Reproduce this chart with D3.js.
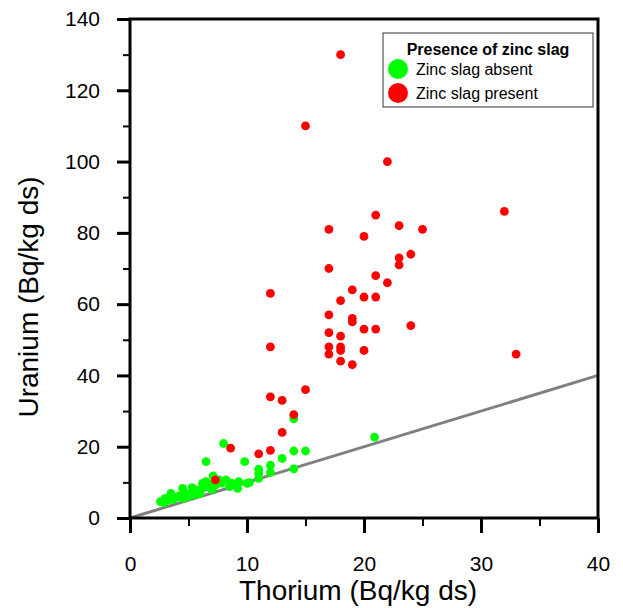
<!DOCTYPE html>
<html>
<head>
<meta charset="utf-8">
<script src="https://cdn.jsdelivr.net/npm/d3@7"></script>
<style>
  body { margin: 0; background: #fff; }
  text { font-family: Arial, "Liberation Sans", sans-serif; }
</style>
</head>
<body>
<div id="chart"></div>
<script>
// thorium / uranium, zinc slag absent (green)
let absentTh = [2.6, 2.9, 3.0, 3.3, 3.5, 3.7, 3.9, 4.2, 4.5, 4.5, 4.7, 5.0, 5.2, 5.3, 5.5, 5.6, 5.9, 6.0, 6.2, 6.3,
  6.5, 6.6, 6.8, 7.0, 7.1, 7.3, 7.6, 7.8, 8.2, 8.5, 8.7, 9.2, 9.3, 10.0, 10.2, 6.5, 9.8, 8.0, 11, 11,
  11, 12, 12, 13, 14, 14, 15, 14, 20.9]
let absentU = [4.6, 4.3, 5.5, 5.0, 6.9, 5.2, 5.8, 6.2, 8.3, 5.5, 6.8, 6.0, 7.2, 8.5, 6.5, 7.9, 7.8, 6.8, 9.7, 8.5,
  10.2, 8.8, 9.5, 8.0, 11.8, 9.2, 10.7, 9.8, 10.7, 8.8, 9.7, 8.3, 10.2, 9.7, 9.9, 15.8, 15.8, 20.9, 13.7, 12.5,
  11.1, 14.8, 12.8, 16.7, 13.8, 18.8, 18.8, 27.8, 22.7]

// zinc slag present (red)
let presentTh = [18, 15, 22, 21, 17, 23, 25, 20, 32, 24, 23, 23, 17, 21, 22, 12, 19, 18, 20, 21,
  17, 19, 19, 24, 20, 21, 17, 18, 12, 17, 17, 18, 18, 20, 18, 19, 33, 15, 12, 13,
  14, 13, 8.6, 11, 12, 7.3]
let presentU = [130, 110, 100, 85, 81, 82, 81, 79, 86, 74, 73, 71, 70, 68, 66, 63, 64, 61, 62, 62,
  57, 56, 55, 54, 53, 53, 52, 51, 48, 48, 46, 48, 47, 47, 44, 43, 46, 36, 34, 33,
  29, 24, 19.6, 18, 19, 10.7]

let xTicks = [0, 10, 20, 30, 40]
let xMinor = [5, 15, 25, 35]
let yTicks = [0, 20, 40, 60, 80, 100, 120, 140]
let yMinor = [10, 30, 50, 70, 90, 110, 130]
let refLine = [[0, 0], [40, 40]]

let legendLabels = ['Zinc slag absent', 'Zinc slag present']
let legendColors = ['#00ff00', '#ff0000']

let width = 623
let height = 608
let margin = { top: 19, left: 130, right: 25, bottom: 90 }

let svg = d3.select('#chart')
  .append('svg')
  .attr('width', width)
  .attr('height', height)

let x = d3.scaleLinear().domain([0, 40]).range([margin.left, width - margin.right])
let y = d3.scaleLinear().domain([0, 140]).range([height - margin.bottom, margin.top])

// 1:1 line goes underneath the dots
svg.append('path')
  .datum(refLine)
  .attr('d', d3.line().x(d => x(d[0])).y(d => y(d[1])))
  .attr('stroke', '#808080')
  .attr('stroke-width', 3)
  .attr('fill', 'none')

let absent = absentTh.map((d, i) => ({ th: d, u: absentU[i] }))
let present = presentTh.map((d, i) => ({ th: d, u: presentU[i] }))

svg.selectAll('.absent')
  .data(absent)
  .enter()
  .append('circle')
  .attr('class', 'absent')
  .attr('cx', d => x(d.th))
  .attr('cy', d => y(d.u))
  .attr('r', 4.4)
  .attr('fill', legendColors[0])

svg.selectAll('.present')
  .data(present)
  .enter()
  .append('circle')
  .attr('class', 'present')
  .attr('cx', d => x(d.th))
  .attr('cy', d => y(d.u))
  .attr('r', 4.4)
  .attr('fill', legendColors[1])

// axes
let xAxis = svg.append('g')
  .attr('transform', 'translate(0,' + y(0) + ')')
  .call(d3.axisBottom(x).tickValues(xTicks).tickFormat(d3.format('d')).tickSize(15).tickSizeOuter(0).tickPadding(23))
xAxis.select('.domain').remove()
xAxis.selectAll('line').attr('stroke', '#000').attr('stroke-width', 3)
xAxis.selectAll('text').attr('font-size', 21).attr('fill', '#000')

let xAxisMinor = svg.append('g')
  .attr('transform', 'translate(0,' + y(0) + ')')
  .call(d3.axisBottom(x).tickValues(xMinor).tickFormat('').tickSize(8).tickSizeOuter(0))
xAxisMinor.select('.domain').remove()
xAxisMinor.selectAll('line').attr('stroke', '#000').attr('stroke-width', 2)

let yAxis = svg.append('g')
  .attr('transform', 'translate(' + x(0) + ',0)')
  .call(d3.axisLeft(y).tickValues(yTicks).tickFormat(d3.format('d')).tickSize(13).tickSizeOuter(0).tickPadding(17))
yAxis.select('.domain').remove()
yAxis.selectAll('line').attr('stroke', '#000').attr('stroke-width', 3)
yAxis.selectAll('text').attr('font-size', 21).attr('fill', '#000')

let yAxisMinor = svg.append('g')
  .attr('transform', 'translate(' + x(0) + ',0)')
  .call(d3.axisLeft(y).tickValues(yMinor).tickFormat('').tickSize(7).tickSizeOuter(0))
yAxisMinor.select('.domain').remove()
yAxisMinor.selectAll('line').attr('stroke', '#000').attr('stroke-width', 2)

// frame
svg.append('rect')
  .attr('x', x(0))
  .attr('y', y(140))
  .attr('width', x(40) - x(0))
  .attr('height', y(0) - y(140))
  .attr('fill', 'none')
  .attr('stroke', '#000')
  .attr('stroke-width', 3)

// axis titles
svg.append('text')
  .attr('x', 358)
  .attr('y', 600)
  .attr('text-anchor', 'middle')
  .attr('font-size', 28)
  .text('Thorium (Bq/kg ds)')

svg.append('text')
  .attr('transform', 'translate(38,' + 297 + ') rotate(-90)')
  .attr('text-anchor', 'middle')
  .attr('font-size', 28)
  .text('Uranium (Bq/kg ds)')

// legend
let legend = svg.append('g').attr('transform', 'translate(383,33)')

legend.append('rect')
  .attr('width', 210)
  .attr('height', 74)
  .attr('fill', '#fff')
  .attr('stroke', '#333')
  .attr('stroke-width', 1)

legend.append('text')
  .attr('x', 105)
  .attr('y', 22)
  .attr('text-anchor', 'middle')
  .attr('font-size', 16)
  .attr('font-weight', 'bold')
  .text('Presence of zinc slag')

let items = legend.selectAll('.item')
  .data(legendLabels)
  .enter()
  .append('g')
  .attr('class', 'item')
  .attr('transform', (d, i) => 'translate(0,' + (36 + i * 24) + ')')

items.append('circle')
  .attr('cx', 15)
  .attr('cy', 0)
  .attr('r', 10)
  .attr('fill', (d, i) => legendColors[i])

items.append('text')
  .attr('x', 33)
  .attr('y', 6)
  .attr('font-size', 16)
  .text(d => d)
</script>
</body>
</html>
